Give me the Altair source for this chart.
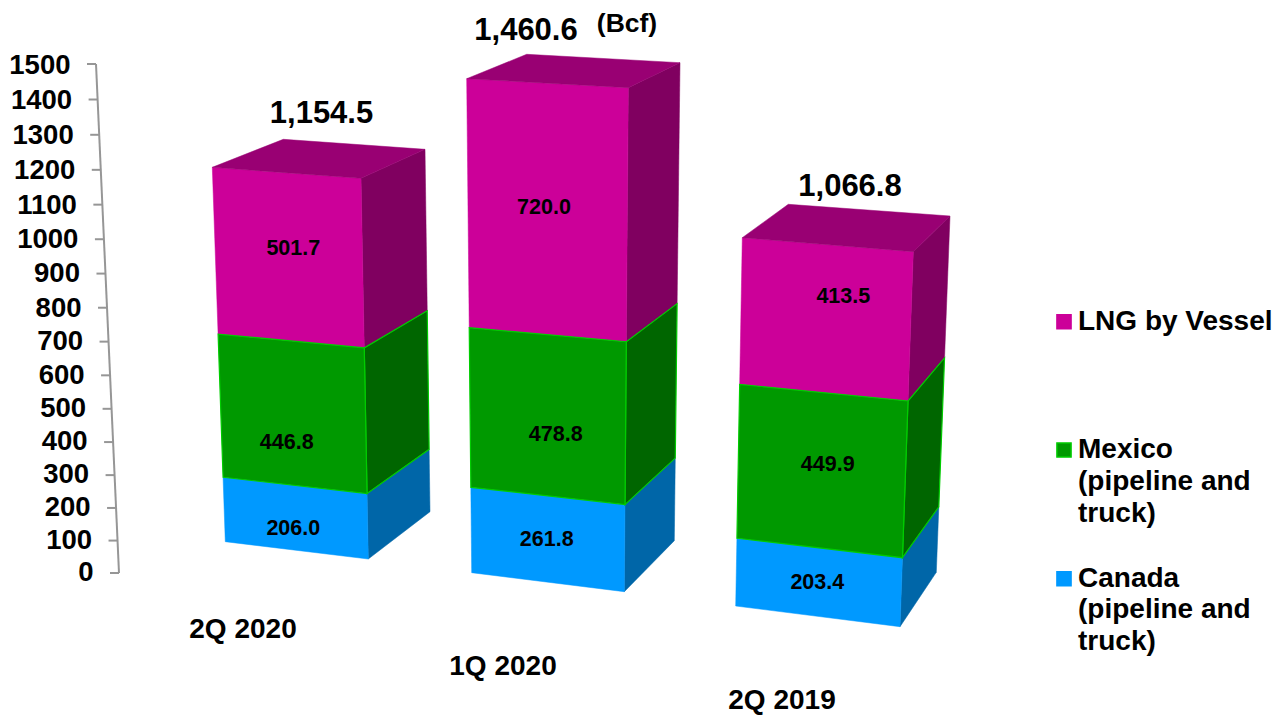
import altair as alt
import pandas as pd

# ---- values ----
quarters = ["2Q 2020", "1Q 2020", "2Q 2019"]
canada = [206.0, 261.8, 203.4]
mexico = [446.8, 478.8, 449.9]
lng = [501.7, 720.0, 413.5]
totals = ["1,154.5", "1,460.6", "1,066.8"]
axis_values = [0, 100, 200, 300, 400, 500, 600, 700, 800, 900, 1000, 1100, 1200, 1300, 1400, 1500]
legend_lines = [["LNG by Vessel"], ["Mexico", "(pipeline and", "truck)"], ["Canada", "(pipeline and", "truck)"]]

# ---- oblique projection of the 3-D scene ----
FONT = "Liberation Sans"
K = 0.045
AXIS_MAX = 1500
W, H = 1268, 707
# per bar: edge -> (foot at value 0, head at the bar's total)
EDGES = [
    {"FL": ((225.3, 541.7), (212.3, 167.3)), "FR": ((368.3, 559.0), (361.0, 178.3)),
     "BR": ((430.0, 511.7), (425.0, 149.3)), "BL": (None, (283.3, 139.3))},
    {"FL": ((471.7, 572.7), (466.7, 78.7)), "FR": ((624.3, 591.7), (628.3, 87.7)),
     "BR": ((674.3, 540.7), (680.0, 62.7)), "BL": (None, (526.7, 54.3))},
    {"FL": ((735.7, 606.0), (742.3, 237.7)), "FR": ((900.0, 626.7), (913.3, 251.7)),
     "BR": ((936.3, 572.3), (950.0, 216.0)), "BL": (None, (788.3, 204.3))},
]
AXIS_EDGE = ((119.0, 573.0), (96.0, 64.0))
COL = {
    "Canada": ("#0099FF", "#0066A8"),
    "Mexico": ("#009900", "#006600"),
    "LNG": ("#CC0099", "#800060"),
}
TOP = "#990073"


def warp(f, k=K):
    return f / (1 + k * (1 - f))


def along(edge, f, k=K):
    (x0, y0), (x1, y1) = edge
    t = warp(f, k)
    return x0 + (x1 - x0) * t, y0 + (y1 - y0) * t


rows = []


def face(name, pts, fill, stroke, sw):
    for i, (x, y) in enumerate(pts):
        rows.append(dict(face=name, seq=i, x=x, y=y, fill=fill, stroke=stroke, sw=sw))


value_rows = []
LABEL_AT = [
    [(293.3, 529.3), (286.7, 443.3), (293.3, 248.8)],
    [(546.7, 540.3), (555.7, 435.0), (544.0, 208.0)],
    [(817.3, 583.3), (827.7, 465.3), (843.3, 297.0)],
]
for b, q in enumerate(quarters):
    vals = [("Canada", canada[b]), ("Mexico", mexico[b]), ("LNG", lng[b])]
    total = sum(v for _, v in vals)
    e = EDGES[b]
    lo = 0.0
    for s, (name, v) in enumerate(vals):
        hi = lo + v
        f0, f1 = lo / total, hi / total
        fc, sc = COL[name]
        st_f = "#00CC00" if name == "Mexico" else fc
        st_s = "#00CC00" if name == "Mexico" else sc
        sw = 1.2 if name == "Mexico" else 0.5
        face(f"{q}-{name}-side", [along(e["FR"], f0), along(e["BR"], f0), along(e["BR"], f1), along(e["FR"], f1)], sc, st_s, sw)
        face(f"{q}-{name}-front", [along(e["FL"], f0), along(e["FR"], f0), along(e["FR"], f1), along(e["FL"], f1)], fc, st_f, sw)
        lx, ly = LABEL_AT[b][s]
        value_rows.append(dict(x=lx, y=ly, label=f"{v:.1f}"))
        lo = hi
    face(f"{q}-top", [e["FL"][1], e["FR"][1], e["BR"][1], e["BL"][1]], TOP, TOP, 0.5)

faces = pd.DataFrame(rows)
is_green = faces["stroke"] == "#00CC00"

X = alt.X("x:Q", scale=alt.Scale(domain=[8, 8 + W], range=[0, W]), axis=None)
Y = alt.Y("y:Q", scale=alt.Scale(domain=[8, 8 + H], range=[0, H]), axis=None)


def faces_layer(df):
    return alt.Chart(df).mark_line(interpolate="linear-closed").encode(
        x=X, y=Y,
        detail="face:N",
        order="seq:Q",
        fill=alt.Fill("fill:N", scale=None),
        stroke=alt.Stroke("stroke:N", scale=None),
        strokeWidth=alt.StrokeWidth("sw:Q", scale=None),
    )


# axis
axis_rows, tick_rows, axis_text = [], [], []
for v in axis_values:
    x, y = along(AXIS_EDGE, v / AXIS_MAX, 0.05)
    tick_rows.append(dict(x=x - 9, x2=x, y=y, y2=y))
    axis_text.append(dict(x=x - 25.5, y=y + 9.5 - 1.5 * (1 - v / AXIS_MAX), label=str(v)))
top = along(AXIS_EDGE, 1.0, 0.05)
bot = along(AXIS_EDGE, 0.0, 0.05)
axis_rows.append(dict(x=bot[0], x2=top[0], y=bot[1], y2=top[1]))


def rule(rows_):
    return alt.Chart(pd.DataFrame(rows_)).mark_rule(color="#969696", strokeWidth=2).encode(
        x=X, x2="x2:Q", y=Y, y2="y2:Q")


def text(rows_, size, align="center", baseline="alphabetic"):
    return alt.Chart(pd.DataFrame(rows_)).mark_text(
        font=FONT, fontWeight="bold", fontSize=size, color="#000000", align=align, baseline=baseline
    ).encode(x=X, y=Y, text="label:N")


total_rows = [
    dict(x=321.5, y=123, label=totals[0]),
    dict(x=526, y=39.5, label=totals[1]),
    dict(x=850, y=195.5, label=totals[2]),
]
unit_rows = [dict(x=627, y=32, label="(Bcf)")]
cat_at = [(243, 637.5), (503, 674.5), (782, 709)]
cat_rows = [dict(x=p[0], y=p[1], label=q) for p, q in zip(cat_at, quarters)]

legend_base = [[330], [458, 490, 522], [587, 618, 650]]
legend_rows = []
for lines, ys in zip(legend_lines, legend_base):
    for t, y in zip(lines, ys):
        legend_rows.append(dict(x=1078, y=y, label=t))
legend_sq = pd.DataFrame([
    dict(x=1064, y=321.7, fill=COL["LNG"][0], stroke=COL["LNG"][0]),
    dict(x=1064, y=450, fill=COL["Mexico"][0], stroke="#00CC00"),
    dict(x=1064, y=578.7, fill=COL["Canada"][0], stroke=COL["Canada"][0]),
])
squares = alt.Chart(legend_sq).mark_square(size=200, opacity=1, strokeWidth=1.5).encode(
    x=X, y=Y,
    fill=alt.Fill("fill:N", scale=None),
    stroke=alt.Stroke("stroke:N", scale=None),
)

chart = alt.layer(
    rule(axis_rows),
    rule(tick_rows),
    faces_layer(faces[~is_green]),
    faces_layer(faces[is_green]),
    text(axis_text, 27.5, align="right"),
    text(value_rows, 21.5, baseline="middle"),
    text(total_rows, 31),
    text(unit_rows, 26.5),
    text(cat_rows, 28),
    squares,
    text(legend_rows, 28, align="left"),
).properties(
    width=W, height=H, padding=0,
    autosize=alt.AutoSizeParams(type="none"),
    background="#FFFFFF",
).configure_view(stroke=None)

chart.save("out.html", embed_options={"renderer": "svg", "actions": False})
